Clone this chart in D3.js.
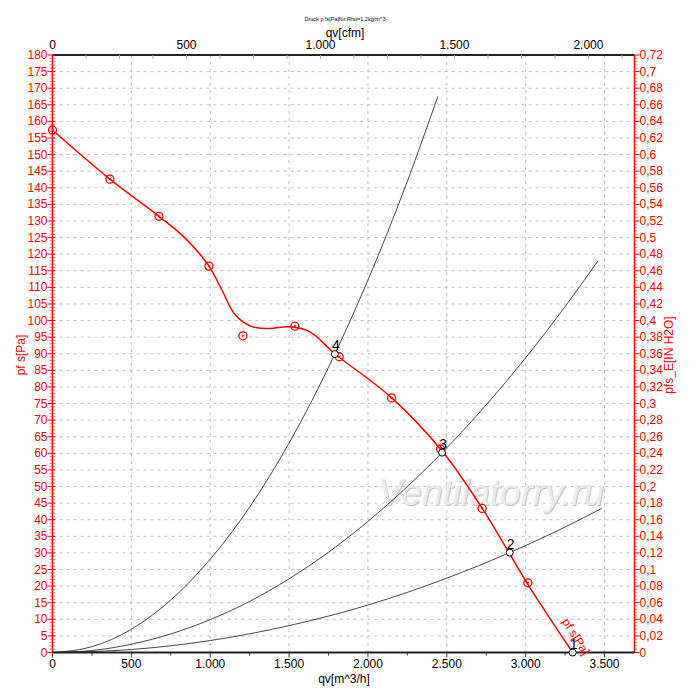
<!DOCTYPE html>
<html>
<head>
<meta charset="utf-8">
<script src="https://cdn.jsdelivr.net/npm/d3@7"></script>
<style>
body { margin: 0; background: #fff; }
svg { font-family: "Liberation Sans", Arial, sans-serif; }
</style>
</head>
<body>
<svg width="700" height="700"></svg>
<script>
// fan curve, measured points (qv m^3/h, ps Pa)
var fanQ = [0, 364, 675, 992, 1207, 1537, 1818, 2150, 2460, 2724, 3014];
var fanP = [157.4, 142.6, 131.4, 116.4, 95.4, 98.3, 89.1, 76.7, 61.3, 43.4, 21];

// fan curve line as drawn
var lineQ = [0, 364, 675, 840, 992, 1074, 1157, 1252, 1347, 1505, 1632, 1790, 2151, 2475, 2728, 3013, 3298];
var lineP = [157.4, 142.6, 131.4, 124.9, 116.4, 109.2, 101.8, 98.4, 97.6, 98.1, 96.6, 90, 76.7, 60.4, 43.2, 20.6, 0];

// system curves
var sys4Q = [0, 250, 500, 750, 1000, 1250, 1500, 1790, 2000, 2250, 2443];
var sys4P = [0, 1.75, 7.0, 15.8, 28.1, 43.8, 63.1, 89.9, 112.2, 142.0, 167.5];
var sys3Q = [0, 250, 500, 750, 1000, 1250, 1500, 1750, 2000, 2250, 2470, 2750, 3000, 3250, 3457];
var sys3P = [0, 0.6, 2.5, 5.6, 9.9, 15.4, 22.2, 30.2, 39.5, 50.0, 60.2, 74.6, 88.8, 104.2, 117.9];
var sys2Q = [0, 500, 1000, 1500, 2000, 2500, 2899, 3250, 3482];
var sys2P = [0, 0.9, 3.6, 8.1, 14.3, 22.4, 30.1, 37.8, 43.4];
var sys1Q = [0, 3500];
var sys1P = [0, 0];

// operating points
var opLabel = ["1", "2", "3", "4"];
var opQ = [3298, 2899, 2470, 1790];
var opP = [0, 30.1, 60.2, 89.9];

var xTicks = [0, 500, 1000, 1500, 2000, 2500, 3000, 3500];
var cfmTicks = [0, 500, 1000, 1500, 2000];
var pl = 52.5, pr = 634.5, pt = 55, pb = 652.5;
var qMax = 3690, cfmFactor = 1.699;

var svg = d3.select("svg");
var x = d3.scaleLinear().domain([0, qMax]).range([pl, pr]);
var xc = d3.scaleLinear().domain([0, qMax / cfmFactor]).range([pl, pr]);
var y = d3.scaleLinear().domain([0, 180]).range([pb, pt]);
var yr = d3.scaleLinear().domain([0, 0.72]).range([pb, pt]);

var dotFmt = function(v) { return d3.format(",")(v).replace(/,/g, "."); };
var commaFmt = function(v) { return (+v.toFixed(2)).toString().replace(".", ","); };

// grid
svg.append("g").selectAll("line").data(d3.range(5, 180, 5)).join("line")
    .attr("x1", pl).attr("x2", pr)
    .attr("y1", d => y(d)).attr("y2", d => y(d))
    .attr("stroke", "#c0c0c0").attr("stroke-dasharray", "3,4");
svg.append("g").selectAll("line").data(xTicks.slice(1)).join("line")
    .attr("x1", d => x(d)).attr("x2", d => x(d))
    .attr("y1", pt).attr("y2", pb)
    .attr("stroke", "#c0c0c0").attr("stroke-dasharray", "3,4");

// watermark
svg.append("text").attr("x", 379).attr("y", 506)
    .attr("font-size", 37).attr("font-style", "italic")
    .attr("fill", "#c4c4c4").text("Ventilatorry.ru");
svg.append("text").attr("x", 378).attr("y", 505)
    .attr("font-size", 37).attr("font-style", "italic")
    .attr("fill", "#ececec").text("Ventilatorry.ru");

// system curves
var line = d3.line().x(d => x(d[0])).y(d => y(d[1])).curve(d3.curveMonotoneX);
[[sys1Q, sys1P], [sys2Q, sys2P], [sys3Q, sys3P], [sys4Q, sys4P]].forEach(function(s) {
    svg.append("path")
        .attr("d", line(d3.zip(s[0], s[1])))
        .attr("fill", "none")
        .attr("stroke", "#333")
        .attr("stroke-width", 0.9);
});

// fan curve
svg.append("path")
    .attr("d", d3.line().x(d => x(d[0])).y(d => y(d[1])).curve(d3.curveCatmullRom.alpha(0.5))(d3.zip(lineQ, lineP)))
    .attr("fill", "none")
    .attr("stroke", "#ff0000")
    .attr("stroke-width", 1.5);

var fanPts = svg.append("g").selectAll("g").data(d3.zip(fanQ, fanP)).join("g")
    .attr("transform", d => "translate(" + x(d[0]) + "," + y(d[1]) + ")");
fanPts.append("circle").attr("r", 4).attr("fill", "none").attr("stroke", "#ff0000").attr("stroke-width", 1.3);
fanPts.append("circle").attr("r", 1.1).attr("fill", "#ff0000");

// top frame
svg.append("line").attr("x1", pl).attr("x2", pr).attr("y1", pt).attr("y2", pt)
    .attr("stroke", "#222").attr("stroke-width", 2);

// top axis (cfm)
svg.append("g").selectAll("line").data(d3.range(125, qMax / cfmFactor, 125)).join("line")
    .attr("x1", d => xc(d)).attr("x2", d => xc(d))
    .attr("y1", pt).attr("y2", pt + 4)
    .attr("stroke", "#aaa");
svg.append("g").selectAll("text").data(cfmTicks).join("text")
    .attr("x", d => xc(d)).attr("y", pt - 6)
    .attr("text-anchor", "middle").attr("font-size", 12)
    .text(dotFmt);
svg.append("text").attr("x", 345).attr("y", 37).attr("text-anchor", "middle")
    .attr("font-size", 12).text("qv[cfm]");
svg.append("text").attr("x", 345).attr("y", 21).attr("text-anchor", "middle")
    .attr("font-size", 5.5).text("Druck p fs[Pa]für Rho=1,2kg/m^3");

// bottom axis
svg.append("g").selectAll("line").data(d3.range(0, qMax, 250)).join("line")
    .attr("x1", d => x(d)).attr("x2", d => x(d))
    .attr("y1", pb).attr("y2", d => pb + (d % 500 ? 3 : 5))
    .attr("stroke", "#444");
svg.append("g").selectAll("text").data(xTicks).join("text")
    .attr("x", d => x(d)).attr("y", pb + 15)
    .attr("text-anchor", "middle").attr("font-size", 12)
    .text(dotFmt);
svg.append("text").attr("x", 344).attr("y", 683).attr("text-anchor", "middle")
    .attr("font-size", 12).text("qv[m^3/h]");

// left axis (Pa)
svg.append("g").selectAll("line").data(d3.range(0, 181, 1)).join("line")
    .attr("x1", d => pl - (d % 5 ? 3 : 5)).attr("x2", pl + 3)
    .attr("y1", d => y(d)).attr("y2", d => y(d))
    .attr("stroke", d => d % 5 ? "#ff8080" : "#ff0000");
svg.append("line").attr("x1", pl).attr("x2", pl).attr("y1", pt).attr("y2", pb)
    .attr("stroke", "#ff0000").attr("stroke-width", 1.5);
svg.append("g").selectAll("text").data(d3.range(0, 181, 5)).join("text")
    .attr("x", pl - 5).attr("y", d => y(d) + 4)
    .attr("text-anchor", "end").attr("font-size", 12).attr("fill", "#ff0000")
    .text(d => d);
svg.append("text").attr("transform", "translate(25,355) rotate(-90)")
    .attr("text-anchor", "middle").attr("font-size", 12).attr("fill", "#ff0000")
    .text("pf s[Pa]");

// right axis (in H2O)
svg.append("g").selectAll("line").data(d3.range(0, 181, 1)).join("line")
    .attr("x1", pr).attr("x2", d => pr + (d % 5 ? 3 : 5))
    .attr("y1", d => y(d)).attr("y2", d => y(d))
    .attr("stroke", d => d % 5 ? "#ff8080" : "#ff0000");
svg.append("line").attr("x1", pr).attr("x2", pr).attr("y1", pt).attr("y2", pb)
    .attr("stroke", "#ff0000").attr("stroke-width", 1.5);
svg.append("g").selectAll("text").data(d3.range(0, 37).map(i => i * 0.02)).join("text")
    .attr("x", pr + 5).attr("y", d => yr(d) + 4)
    .attr("font-size", 12).attr("fill", "#ff0000")
    .text(commaFmt);
svg.append("text").attr("transform", "translate(673,355) rotate(-90)")
    .attr("text-anchor", "middle").attr("font-size", 12).attr("fill", "#ff0000")
    .text("pfs_E[IN H2O]");

svg.append("line").attr("x1", pl).attr("x2", pr).attr("y1", pb).attr("y2", pb)
    .attr("stroke", "#222").attr("stroke-width", 2);

// operating points
var ops = svg.append("g").selectAll("g").data(d3.range(opLabel.length)).join("g")
    .attr("transform", i => "translate(" + x(opQ[i]) + "," + y(opP[i]) + ")");
ops.append("circle").attr("r", 3.5).attr("fill", "#fff").attr("stroke", "#000").attr("stroke-width", 1);
ops.append("text").attr("x", 1).attr("y", -4).attr("text-anchor", "middle")
    .attr("font-size", 14).text(i => opLabel[i]);

// curve label along the end of the fan curve
var lastQ = lineQ[lineQ.length - 1];
svg.append("text")
    .attr("transform", "translate(" + (x(lastQ) - 11) + "," + (y(lineP[lineP.length - 1]) - 31) + ") rotate(58)")
    .attr("font-size", 12).attr("fill", "#ff0000")
    .text("pf s[Pa]");
</script>
</body>
</html>
